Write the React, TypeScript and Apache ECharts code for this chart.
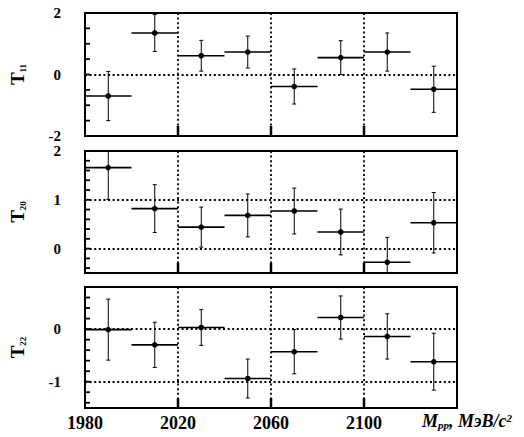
import React, { useEffect, useRef } from "react";
import * as echarts from "echarts";

// ---- data ----
const binCenters = [1990, 2010, 2030, 2050, 2070, 2090, 2110, 2130];
const binWidth = 20;
const t11 = [-0.70, 1.35, 0.61, 0.73, -0.39, 0.55, 0.73, -0.48];
const t11Err = [0.80, 0.60, 0.50, 0.52, 0.57, 0.55, 0.62, 0.75];
const t20 = [1.66, 0.82, 0.44, 0.68, 0.77, 0.34, -0.28, 0.53];
const t20Err = [0.65, 0.49, 0.41, 0.44, 0.47, 0.47, 0.51, 0.62];
const t22 = [-0.01, -0.30, 0.03, -0.94, -0.43, 0.22, -0.14, -0.62];
const t22Err = [0.58, 0.43, 0.34, 0.37, 0.42, 0.41, 0.43, 0.54];

const xTickLabels = [1980, 2020, 2060, 2100];
const xMajorTicks = [2020, 2060, 2100];
const t11Labels = [-2, 0, 2];
const t20Labels = [0, 1, 2];
const t22Labels = [-1, 0];
const t11MinorTicks = [-1.5, -1, -0.5, 0, 0.5, 1, 1.5];
const t20MinorTicks = [-0.4, -0.2, 0, 0.2, 0.4, 0.6, 0.8, 1, 1.2, 1.4, 1.6, 1.8];
const t22MinorTicks = [-1.4, -1.2, -1, -0.8, -0.6, -0.4, -0.2, 0, 0.2, 0.4, 0.6];
const t11Dotted = [0];
const t20Dotted = [0, 1];
const t22Dotted = [0, -1];

const FONT = "'Liberation Serif', 'DejaVu Serif', serif";

const panels = [
  { name: "11", vals: t11, errs: t11Err, min: -2, max: 2, interval: 2, labels: t11Labels, ticks: t11MinorTicks, dotted: t11Dotted, top: 13, height: 123 },
  { name: "20", vals: t20, errs: t20Err, min: -0.5, max: 2, interval: 0.5, labels: t20Labels, ticks: t20MinorTicks, dotted: t20Dotted, top: 151, height: 122 },
  { name: "22", vals: t22, errs: t22Err, min: -1.5, max: 0.8, interval: 0.5, labels: t22Labels, ticks: t22MinorTicks, dotted: t22Dotted, top: 287, height: 121 },
];

const dotted = { color: "#000", type: [2, 2.6] as any, width: 1.8 };

export default function App() {
  const ref = useRef<HTMLDivElement>(null);
  useEffect(() => {
    if (!ref.current) return;
    const chart = echarts.init(ref.current, undefined, { renderer: "svg" });

    const grid = panels.map((p) => ({
      left: 80, top: p.top, width: 377, height: p.height,
      show: true, borderColor: "#000", borderWidth: 2, backgroundColor: "transparent",
    }));

    const xAxis = panels.map((p, i) => ({
      type: "value", gridIndex: i, min: 1980, max: 2140, interval: 40, position: "bottom",
      axisLine: { show: false, onZero: false },
      axisTick: { show: false },
      splitLine: { show: true, lineStyle: dotted },
      axisLabel: {
        show: i === 2, margin: 6, color: "#000", fontFamily: FONT, fontWeight: "bold", fontSize: 18,
        formatter: (v: number) => (xTickLabels.includes(v) ? String(v) : ""),
      },
    }));

    const yAxis = panels.map((p, i) => ({
      type: "value", gridIndex: i, min: p.min, max: p.max, interval: p.interval, position: "left",
      axisLine: { show: false, onZero: false },
      axisTick: { show: false },
      splitLine: { show: false },
      axisLabel: {
        show: true, margin: 24, color: "#000", fontFamily: FONT, fontWeight: "bold", fontSize: 15,
        showMinLabel: true, showMaxLabel: true,
        formatter: (v: number) => (p.labels.some((l) => Math.abs(l - v) < 1e-6) ? String(Math.round(v)) : ""),
      },
      name: `{t|T}{s|${p.name}}`,
      nameLocation: "middle",
      nameGap: 58,
      nameTextStyle: {
        rich: {
          t: { fontFamily: FONT, fontWeight: "bold", fontSize: 19, color: "#000" },
          s: { fontFamily: FONT, fontWeight: "bold", fontSize: 9, color: "#000", verticalAlign: "bottom", padding: [8, 0, 0, 0] },
        },
      },
    }));

    const series: any[] = [];
    panels.forEach((p, i) => {
      series.push({
        type: "line", xAxisIndex: i, yAxisIndex: i, data: [], silent: true,
        markLine: {
          silent: true, symbol: ["none", "none"], label: { show: false },
          lineStyle: dotted,
          data: p.dotted.map((v) => ({ yAxis: v })),
        },
      });
      // minor ticks on the left edge
      series.push({
        type: "custom", xAxisIndex: i, yAxisIndex: i, silent: true,
        data: p.ticks.map((v) => [1980, v]),
        renderItem: (_params: any, api: any) => {
          const c = api.coord([api.value(0), api.value(1)]);
          return {
            type: "line",
            shape: { x1: c[0], y1: c[1], x2: c[0] + 5, y2: c[1] },
            style: { stroke: "#000", lineWidth: 1.8 },
          };
        },
      });
      // major ticks on the bottom edge
      series.push({
        type: "custom", xAxisIndex: i, yAxisIndex: i, silent: true,
        data: xMajorTicks.map((v) => [v, p.min]),
        renderItem: (_params: any, api: any) => {
          const c = api.coord([api.value(0), api.value(1)]);
          return {
            type: "line",
            shape: { x1: c[0], y1: c[1], x2: c[0], y2: c[1] - 10 },
            style: { stroke: "#000", lineWidth: 2.5 },
          };
        },
      });
      // error bars
      series.push({
        type: "custom", xAxisIndex: i, yAxisIndex: i, clip: true, silent: true,
        data: binCenters.map((c, k) => [c, p.vals[k], p.errs[k]]),
        renderItem: (_params: any, api: any) => {
          const x = api.value(0), y = api.value(1), e = api.value(2);
          const hw = binWidth / 2;
          const l = api.coord([x - hw, y]);
          const r = api.coord([x + hw, y]);
          const c = api.coord([x, y]);
          const t = api.coord([x, y + e]);
          const b = api.coord([x, y - e]);
          return {
            type: "group",
            children: [
              { type: "line", shape: { x1: l[0], y1: l[1], x2: r[0], y2: r[1] }, style: { stroke: "#000", lineWidth: 1.6 } },
              { type: "line", shape: { x1: t[0], y1: t[1], x2: b[0], y2: b[1] }, style: { stroke: "#000", lineWidth: 1 } },
              { type: "line", shape: { x1: t[0] - 2, y1: t[1], x2: t[0] + 2, y2: t[1] }, style: { stroke: "#000", lineWidth: 1 } },
              { type: "line", shape: { x1: b[0] - 2, y1: b[1], x2: b[0] + 2, y2: b[1] }, style: { stroke: "#000", lineWidth: 1 } },
              { type: "circle", shape: { cx: c[0], cy: c[1], r: 2.8 }, style: { fill: "#000" } },
            ],
          };
        },
      });
    });

    chart.setOption({
      animation: false,
      backgroundColor: "#fff",
      grid, xAxis, yAxis, series,
      graphic: [
        {
          type: "text", left: 422, top: 412,
          style: {
            text: "{m|M}{s|pp}{m|, МэВ/c}{u|2}",
            rich: {
              m: { fontFamily: FONT, fontWeight: "bold", fontStyle: "italic", fontSize: 18, color: "#000" },
              s: { fontFamily: FONT, fontWeight: "bold", fontStyle: "italic", fontSize: 11, color: "#000", verticalAlign: "bottom", padding: [7, 0, 0, 0] },
              u: { fontFamily: FONT, fontWeight: "bold", fontStyle: "italic", fontSize: 11, color: "#000", verticalAlign: "top", padding: [0, 0, 7, 0] },
            },
          },
        },
      ],
    });
    return () => chart.dispose();
  }, []);
  return <div ref={ref} style={{ position: "fixed", left: 0, top: 0, width: 524, height: 437 }} />;
}
